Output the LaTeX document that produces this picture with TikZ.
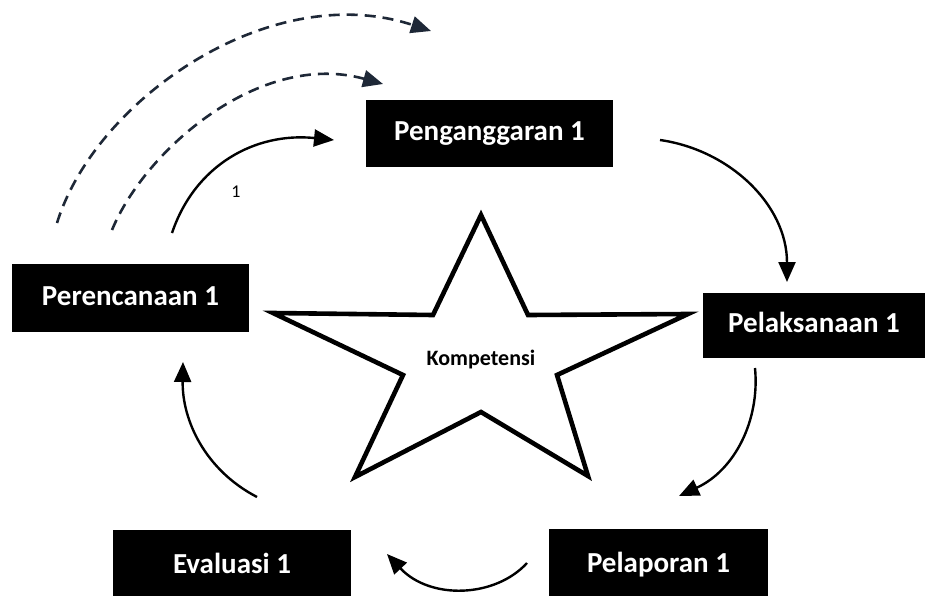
\documentclass[tikz,border=0pt]{standalone}
\usepackage{fontspec}
\setmainfont{Carlito}
\usetikzlibrary{arrows.meta}
\definecolor{navy}{RGB}{30,40,55}
\tikzset{
  box/.style={rectangle, fill=black, text=white, inner sep=0pt, text height=20pt, text depth=6pt, font=\fontsize{29}{32}\selectfont\bfseries},
  arr/.style={line width=2.4pt, -{Triangle[length=20pt,width=17pt]}},
  darr/.style={line width=2.6pt, navy, dash pattern=on 11pt off 7pt, -{Triangle[length=20pt,width=17pt]}},
}
\begin{document}
\begin{tikzpicture}[x=1pt,y=-1pt]
\useasboundingbox (0,0) rectangle (927,595);
% boxes
\node[box, minimum width=247pt, minimum height=67pt] (peng) at (489.5,133.5) {Penganggaran 1};
\node[box, minimum width=222pt, minimum height=65pt] (pelak) at (814,325.5) {Pelaksanaan 1};
\node[box, minimum width=237pt, minimum height=68pt] (peren) at (130.5,298) {Perencanaan 1};
\node[box, minimum width=238pt, minimum height=72pt] (eval) at (232,566) {Evaluasi 1};
\node[box, minimum width=219pt, minimum height=72pt] (pelap) at (658.5,565) {Pelaporan 1};
% star
\draw[line width=4.6pt, line join=miter, fill=white]
  (481,215) -- (528,315) -- (688,314) -- (557,375) -- (588,476)
  -- (481,412) -- (355,477) -- (403,375) -- (273,313) -- (433,315) -- cycle;
\node[font=\fontsize{22}{26}\selectfont\bfseries] (komp) at (481,360) {Kompetensi};
% coordinates
\coordinate (a1s) at (172,233); \coordinate (a1e) at (334,140);
\coordinate (d1s) at (112,230); \coordinate (d1e) at (383,84);
\coordinate (d2s) at (57,223);  \coordinate (d2e) at (431,31);
\coordinate (a4s) at (660,140); \coordinate (a4e) at (787,282);
\coordinate (a5s) at (755,368); \coordinate (a5e) at (679,496);
\coordinate (a6s) at (527,563); \coordinate (a6e) at (387,554);
\coordinate (a7s) at (257,497); \coordinate (a7e) at (183,362);
% arrows
\draw[arr] (a1s) .. controls (195,165) and (255,132) .. (a1e);
\node[font=\fontsize{18}{20}\selectfont] (lbl) at (236,192) {1};
\draw[darr] (d1s) .. controls (145,150) and (260,50) .. (d1e);
\draw[darr] (d2s) .. controls (95,100) and (270,-22) .. (d2e);
\draw[arr] (a4s) .. controls (730,150) and (787,205) .. (a4e);
\draw[arr] (a5s) .. controls (760,420) and (735,470) .. (a5e);
\draw[arr] (a6s) .. controls (495,598) and (430,600) .. (a6e);
\draw[arr] (a7s) .. controls (205,470) and (182,420) .. (a7e);
\end{tikzpicture}
\end{document}
